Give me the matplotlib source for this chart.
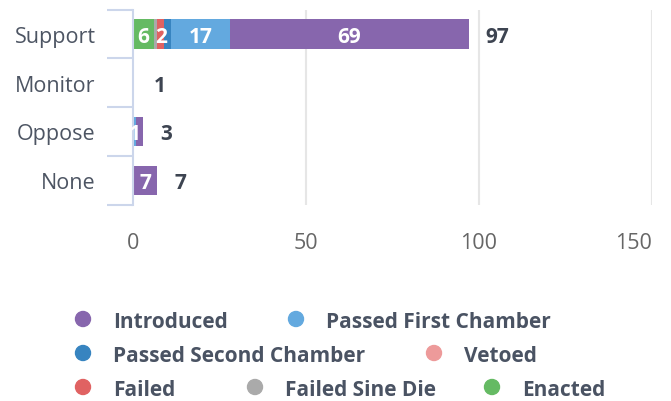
import numpy as np
import matplotlib
matplotlib.use("Agg")
import matplotlib.pyplot as plt

plt.rcParams['font.family'] = ['Open Sans', 'DejaVu Sans']

# Datos
categorias = ['Support', 'Monitor', 'Oppose', 'None']
series = ['Introduced', 'Passed First Chamber', 'Passed Second Chamber', 'Vetoed',
          'Failed', 'Failed Sine Die', 'Enacted']
introduced = [69, 0, 2, 7]
passed_first = [17, 0, 1, 0]
passed_second = [2, 0, 0, 0]
vetoed = [0, 0, 0, 0]
failed = [2, 0, 0, 0]
failed_sine_die = [1, 0, 0, 0]
enacted = [6, 0, 0, 0]
totales = [97, 1, 3, 7]
ticks_x = [0, 50, 100, 150]

colores = ['#8766ad', '#63a9df', '#3784c0', '#ed9a9a', '#e06262', '#aaaaaa', '#65ba63']
valores = [introduced, passed_first, passed_second, vetoed, failed, failed_sine_die, enacted]

W, H = 671, 402
fig = plt.figure(figsize=(W/100, H/100), dpi=100)
ax = fig.add_axes([133/W, 1-205.5/H, (652-133)/W, (205.5-10.5)/H])

y = np.arange(len(categorias))
alto = 0.6
px_por_unidad = (652-133)/150

# Las series se apilan de derecha a izquierda: Enacted queda junto al eje
orden = list(range(len(series)))[::-1]
for i_cat in range(len(categorias)):
    izq = 0
    extensiones = []
    for s in orden:
        v = valores[s][i_cat]
        if v <= 0:
            continue
        ax.barh(y[i_cat], v, left=izq, height=alto, color=colores[s], zorder=3)
        centro = izq + v/2
        txt = str(v)
        medio = (5.5*len(txt) + 3)/px_por_unidad
        a, b = centro - medio, centro + medio
        if all(b <= e0 or a >= e1 for e0, e1 in extensiones):
            extensiones.append((a, b))
            ax.text(centro, y[i_cat], txt, color='white', fontsize=15, fontweight='bold',
                    ha='center', va='center_baseline', zorder=5)
        izq += v
    ax.annotate(str(totales[i_cat]), (totales[i_cat], y[i_cat]), xytext=(17, 0),
                textcoords='offset pixels', color='#3d4451', fontsize=15, fontweight='bold',
                ha='left', va='center_baseline', zorder=5)

ax.set_xlim(0, 150)
ax.set_ylim(len(categorias)-0.5, -0.5)
ax.set_xticks(ticks_x)
ax.set_xticklabels([str(t) for t in ticks_x])
ax.get_xticklabels()[-1].set_ha('right')
ax.set_yticks(y)
ax.set_yticklabels(categorias)
ax.set_yticks(np.arange(-0.5, len(categorias)), minor=True)

for x in ticks_x[1:]:
    ax.axvline(x, color='#e6e6e6', lw=1.5, zorder=1)

for lado in ['top', 'right', 'bottom']:
    ax.spines[lado].set_visible(False)
ax.spines['left'].set_color('#ccd6eb')
ax.spines['left'].set_linewidth(1.5)
ax.spines['left'].set_zorder(4)

ax.tick_params(axis='x', length=0, pad=20, labelsize=15.5, labelcolor='#666666')
ax.tick_params(axis='y', which='major', length=0, pad=27, labelsize=15.5, labelcolor='#4d5563')
ax.tick_params(axis='y', which='minor', length=19, width=1.5, color='#ccd6eb')

# Leyenda manual en coordenadas de pixeles
leyenda = [(0, 83, 320), (1, 296, 320), (2, 83, 354), (3, 434, 354),
           (4, 83, 388), (5, 255, 388), (6, 492, 388)]
for s, xm, ym in leyenda:
    fig.patches.append(matplotlib.patches.Ellipse((xm/W, 1-ym/H), 15/W, 15/H,
                       transform=fig.transFigure, color=colores[s]))
    fig.text((xm+30)/W, 1-ym/H, series[s], fontsize=15, fontweight='bold',
             color='#4a5363', ha='left', va='center_baseline')

fig.savefig('out.png', dpi=100)
